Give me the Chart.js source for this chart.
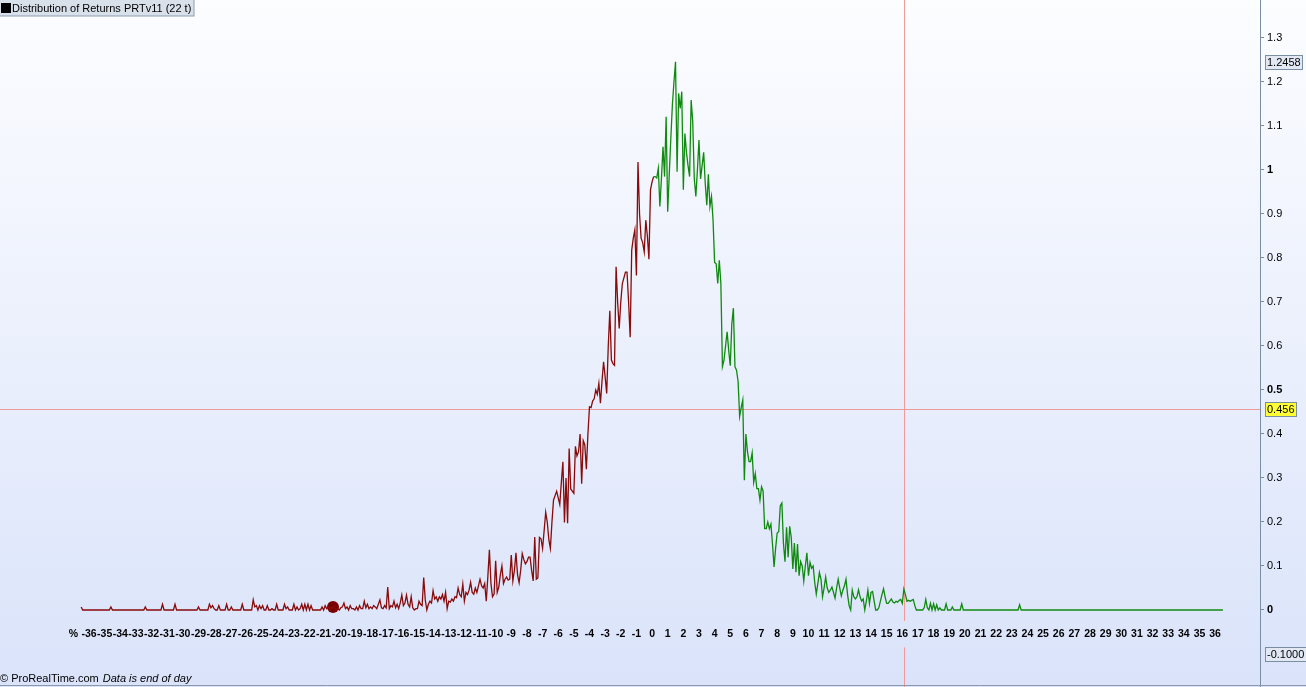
<!DOCTYPE html>
<html>
<head>
<meta charset="utf-8">
<script src="https://cdn.jsdelivr.net/npm/chart.js@4.4.1/dist/chart.umd.min.js"></script>
<style>
  html, body { margin: 0; padding: 0; overflow: hidden; background: #fff; }
  #wrap { position: relative; width: 1306px; height: 687px; }
</style>
</head>
<body>
<div id="wrap"><canvas id="myChart"></canvas></div>
<script>
// frequency (% of days) per 0.1% bucket of return, from -36.5% to +36.5%
const freq = [
  0.007,0,0,0,0,                                                   // -36.5
  0,0,0,0,0,0,0,0,0,0,                                             // -36
  0,0,0,0,0.007,0,0,0,0,0,                                         // -35
  0,0,0,0,0,0,0,0,0,0,                                             // -34
  0,0,0,0,0,0,0.007,0,0,0,                                         // -33
  0,0,0,0,0,0,0,0.013,0,0,                                         // -32
  0,0,0,0,0,0.013,0,0,0,0,                                         // -31
  0,0,0,0,0,0,0,0,0,0,                                             // -30
  0.007,0,0,0,0,0,0,0.013,0.005,0.01,                              // -29
  0.003,0,0,0.01,0,0,0,0,0.013,0,                                  // -28
  0,0.007,0,0,0,0,0,0,0.013,0,                                     // -27
  0,0,0,0,0,0.023,0.007,0.01,0,0.01,                               // -26
  0.003,0.01,0,0,0.01,0,0,0.003,0,0,                               // -25
  0.013,0,0,0,0,0.013,0.003,0.007,0,0,                             // -24
  0,0.013,0,0.007,0,0.003,0.013,0,0.013,0,                         // -23
  0.013,0,0.01,0,0,0,0,0,0,0.007,                                  // -22
  0,0.01,0.003,0.007,0,0.005,0.007,0.005,0,0.003,                  // -21
  0,0.005,0.007,0.016,0.003,0.007,0,0.01,0.003,0.003,              // -20
  0,0.007,0,0.01,0.003,0.003,0.02,0.005,0.013,0.003,               // -19
  0.007,0.003,0.01,0.007,0.003,0.013,0.023,0.005,0.003,0.01,       // -18
  0.005,0.052,0.003,0.01,0.007,0.02,0.005,0.013,0.003,0.016,       // -17
  0.034,0.01,0.016,0.034,0.013,0.007,0.03,0.005,0,0.003,           // -16
  0.003,0.02,0.013,0.01,0.074,0.023,0,0.013,0.02,0.016,            // -15
  0.044,0.025,0.03,0.02,0.03,0.025,0.035,0.02,0.04,0.003,          // -14
  0.02,0.018,0.025,0.02,0.03,0.028,0.05,0.035,0.03,0.059,          // -13
  0.02,0.04,0.035,0.045,0.063,0.04,0.036,0.05,0.04,0.055,          // -12
  0.07,0.055,0.05,0.06,0.02,0.075,0.137,0.06,0.03,0.036,           // -11
  0.112,0.04,0.052,0.08,0.1,0.06,0.07,0.075,0.068,0.07,            // -10
  0.125,0.066,0.09,0.13,0.08,0.062,0.09,0.128,0.115,0.105,         // -9
  0.11,0.12,0.12,0.09,0.066,0.166,0.07,0.073,0.165,0.162,          // -8
  0.14,0.18,0.222,0.2,0.16,0.14,0.2,0.25,0.26,0.27,                // -7
  0.255,0.24,0.29,0.337,0.199,0.3,0.197,0.367,0.275,0.27,          // -6
  0.265,0.372,0.35,0.36,0.40,0.287,0.385,0.375,0.32,0.40,          // -5
  0.462,0.46,0.475,0.48,0.50,0.49,0.515,0.47,0.52,0.564,           // -4
  0.53,0.492,0.6,0.68,0.568,0.56,0.556,0.78,0.7,0.64,              // -3
  0.70,0.742,0.755,0.768,0.768,0.7,0.62,0.818,0.845,0.864,         // -2
  0.76,1.018,0.9,0.845,0.835,0.814,0.886,0.85,0.797,0.955,         // -1
  0.973,0.985,0.985,0.982,1.004,0.917,0.98,1.053,0.985,1.121,      // 0
  0.905,0.99,1.072,1.148,1.2,1.2458,0.996,1.174,1.14,1.178,        // 1
  0.955,1.083,1.04,1.01,0.985,1.159,1.11,0.98,0.94,1.0,            // 2
  1.068,0.98,1.01,1.04,0.97,0.92,0.99,0.917,0.94,0.886,            // 3
  0.79,0.787,0.742,0.795,0.742,0.553,0.568,0.6,0.632,0.59,         // 4
  0.555,0.65,0.686,0.553,0.545,0.52,0.44,0.46,0.477,0.295,         // 5
  0.40,0.36,0.337,0.337,0.357,0.29,0.31,0.276,0.276,0.25,          // 6
  0.28,0.27,0.185,0.185,0.20,0.185,0.195,0.15,0.098,0.14,          // 7
  0.175,0.178,0.237,0.243,0.152,0.11,0.188,0.12,0.19,0.165,        // 8
  0.093,0.152,0.086,0.15,0.078,0.11,0.1,0.066,0.1,0.13,            // 9
  0.078,0.108,0.095,0.1,0.063,0.036,0.06,0.085,0.07,0.03,          // 10
  0.05,0.075,0.05,0.04,0.045,0.052,0.04,0.027,0.05,0.07,           // 11
  0.05,0.032,0.045,0.055,0.07,0.035,0.01,0,0.045,0.03,             // 12
  0.025,0.03,0.046,0.03,0.02,0.025,0,0.02,0.045,0.015,             // 13
  0.04,0.042,0.02,0,0,0.005,0.02,0.035,0.048,0.03,                 // 14
  0.015,0.015,0.02,0.025,0.018,0.016,0.02,0.018,0.022,0.024,       // 15
  0.015,0.048,0.035,0.02,0.022,0.02,0.022,0.024,0.01,0,            // 16
  0,0,0,0,0.005,0.024,0.005,0,0.015,0,                             // 17
  0.014,0,0.012,0,0.005,0,0,0,0.014,0,                             // 18
  0,0,0.007,0,0,0,0,0,0.014,0,                                     // 19
  0,0,0,0,0,0,0,0,0,0,                                             // 20
  0,0,0,0,0,0,0,0,0,0,                                             // 21
  0,0,0,0,0,0,0,0,0,0,                                             // 22
  0,0,0,0,0,0.012,0,0,0,0,                                         // 23
  0,0,0,0,0,0,0,0,0,0,                                             // 24
  0,0,0,0,0,0,0,0,0,0,                                             // 25
  0,0,0,0,0,0,0,0,0,0,                                             // 26
  0,0,0,0,0,0,0,0,0,0,                                             // 27
  0,0,0,0,0,0,0,0,0,0,                                             // 28
  0,0,0,0,0,0,0,0,0,0,                                             // 29
  0,0,0,0,0,0,0,0,0,0,                                             // 30
  0,0,0,0,0,0,0,0,0,0,                                             // 31
  0,0,0,0,0,0,0,0,0,0,                                             // 32
  0,0,0,0,0,0,0,0,0,0,                                             // 33
  0,0,0,0,0,0,0,0,0,0,                                             // 34
  0,0,0,0,0,0,0,0,0,0,                                             // 35
  0,0,0,0,0,0                                                      // 36
];
const firstPct = -36.5;
const stepPct = 0.1;
const returnPct = freq.map((_, i) => Math.round((firstPct + i * stepPct) * 10) / 10);

// the dot drawn on the curve
const markerPct = [-20.4];
const markerVal = [0.007];

// axis ticks ("%" sits in the -37 slot)
const xTicks = [-37,-36,-35,-34,-33,-32,-31,-30,-29,-28,-27,-26,-25,-24,-23,-22,-21,-20,-19,-18,
  -17,-16,-15,-14,-13,-12,-11,-10,-9,-8,-7,-6,-5,-4,-3,-2,-1,0,1,2,3,4,5,6,7,8,9,10,11,12,13,14,
  15,16,17,18,19,20,21,22,23,24,25,26,27,28,29,30,31,32,33,34,35,36];
const yTicks = [0,0.1,0.2,0.3,0.4,0.5,0.6,0.7,0.8,0.9,1,1.1,1.2,1.3];
const boldTicks = [0, 0.5, 1];

// crosshair and price-scale markers
const cursorPct = 16.1;
const cursorVal = 0.456;
const lowMarkVal = -0.1;
const title = 'Distribution of Returns PRTv11 (22 t)';

const RED = '#880a0a';
const GREEN = '#0f8a0f';
const FONT = '"Liberation Sans", Arial, sans-serif';

const points = returnPct.map((x, i) => ({ x: x, y: freq[i] }));
const dots = markerPct.map((x, i) => ({ x: x, y: markerVal[i] }));

function box(ctx, text, yPix, x0, bg) {
  ctx.font = '11px ' + FONT;
  const w = Math.ceil(ctx.measureText(text).width) + 3;
  const h = 14;
  const top = Math.round(yPix - h / 2) + 0.5;
  ctx.fillStyle = bg;
  ctx.fillRect(x0 + 0.5, top, w, h);
  ctx.strokeStyle = '#7a8ea3';
  ctx.lineWidth = 1;
  ctx.strokeRect(x0 + 0.5, top, w, h);
  ctx.fillStyle = '#000';
  ctx.textAlign = 'left';
  ctx.textBaseline = 'middle';
  ctx.fillText(text, x0 + 2, top + h / 2 + 0.5);
}

const decor = {
  id: 'decor',
  beforeDraw(chart) {
    const ctx = chart.ctx;
    const g = ctx.createLinearGradient(0, 0, 0, chart.height);
    g.addColorStop(0, '#fcfdff');
    g.addColorStop(1, '#dae3fa');
    ctx.save();
    ctx.fillStyle = g;
    ctx.fillRect(0, 0, chart.width, chart.height);
    ctx.restore();
  },
  beforeDatasetsDraw(chart) {
    const ctx = chart.ctx;
    const xs = chart.scales.x, ys = chart.scales.y;
    const px = Math.round(xs.getPixelForValue(cursorPct)) + 0.5;
    const py = Math.round(ys.getPixelForValue(cursorVal)) + 0.5;
    ctx.save();
    ctx.strokeStyle = '#f19a9a';
    ctx.lineWidth = 1;
    ctx.beginPath();
    ctx.moveTo(chart.chartArea.left, py);
    ctx.lineTo(chart.chartArea.right, py);
    ctx.moveTo(px, 0);
    ctx.lineTo(px, ys.getPixelForValue(-0.025));
    ctx.moveTo(px, ys.getPixelForValue(-0.085));
    ctx.lineTo(px, chart.height);
    ctx.stroke();
    ctx.restore();
  },
  afterDraw(chart) {
    const ctx = chart.ctx;
    const ys = chart.scales.y;
    const x0 = ys.left + 5;
    ctx.save();
    // bottom border
    ctx.strokeStyle = '#8a99a9';
    ctx.beginPath();
    ctx.moveTo(0, chart.height - 1.5);
    ctx.lineTo(chart.width, chart.height - 1.5);
    ctx.stroke();
    // price scale markers
    const peak = Math.max(...freq);
    box(ctx, peak.toFixed(4), ys.getPixelForValue(peak), x0, '#e2e9f5');
    box(ctx, String(cursorVal), ys.getPixelForValue(cursorVal), x0, '#ffff33');
    box(ctx, lowMarkVal.toFixed(4), ys.getPixelForValue(lowMarkVal), x0, '#e2e9f5');
    // title tag
    ctx.font = '11px ' + FONT;
    const tw = Math.ceil(ctx.measureText(title).width);
    ctx.fillStyle = '#d8e0ea';
    ctx.fillRect(0, 0, tw + 14, 16);
    ctx.strokeStyle = '#8d9db0';
    ctx.strokeRect(-0.5, -0.5, tw + 14.5, 16.5);
    ctx.fillStyle = '#000';
    ctx.fillRect(1, 3, 10, 10);
    ctx.textAlign = 'left';
    ctx.textBaseline = 'middle';
    ctx.fillText(title, 12, 8.5);
    // footer
    const foot = '\u00a9 ProRealTime.com';
    ctx.fillText(foot, 0, chart.height - 8);
    const fw = ctx.measureText(foot).width;
    ctx.font = 'italic 11px ' + FONT;
    ctx.fillText('Data is end of day', fw + 4, chart.height - 8);
    ctx.restore();
  }
};

const ctx = document.getElementById('myChart').getContext('2d');
const myChart = new Chart(ctx, {
  type: 'line',
  data: {
    datasets: [{
      label: 'Distribution',
      data: points,
      borderColor: RED,
      borderWidth: 1.3,
      pointRadius: 0,
      tension: 0,
      segment: {
        borderColor: c => c.p0.parsed.x > 0.05 ? GREEN : RED
      }
    }, {
      label: 'marker',
      data: dots,
      showLine: false,
      pointRadius: 6,
      pointBackgroundColor: '#7a0000',
      pointBorderColor: '#7a0000',
      pointBorderWidth: 0
    }]
  },
  options: {
    responsive: true,
    maintainAspectRatio: false,
    animation: false,
    devicePixelRatio: 1,
    layout: { padding: 0, autoPadding: false },
    plugins: { legend: { display: false }, tooltip: { enabled: false } },
    scales: {
      x: {
        type: 'linear',
        position: { y: 0 },
        min: -41.69,
        max: 38.87,
        afterBuildTicks: s => { s.ticks = xTicks.map(v => ({ value: v })); },
        afterFit: s => { s.paddingLeft = 0; s.paddingRight = 0; },
        grid: { display: false, drawTicks: false },
        border: { display: false },
        ticks: {
          autoSkip: false,
          maxRotation: 0,
          minRotation: 0,
          padding: 18,
          color: '#000',
          font: { family: FONT, size: 10.5, weight: 'bold' },
          callback: v => v === -37 ? '%' : String(v)
        }
      },
      y: {
        type: 'linear',
        position: 'right',
        min: -0.175,
        max: 1.38636,
        afterBuildTicks: s => { s.ticks = yTicks.map(v => ({ value: v })); },
        afterFit: s => { s.width = 46; s.paddingTop = 0; s.paddingBottom = 0; },
        grid: { drawOnChartArea: false, drawTicks: true, tickLength: 4, color: '#7a8ea3' },
        border: { color: '#7a8ea3' },
        ticks: {
          padding: 3,
          color: '#000',
          font: c => ({ family: FONT, size: 11, weight: boldTicks.includes(c.tick && c.tick.value) ? 'bold' : 'normal' }),
          callback: v => String(v)
        }
      }
    }
  },
  plugins: [decor]
});
</script>
</body>
</html>
